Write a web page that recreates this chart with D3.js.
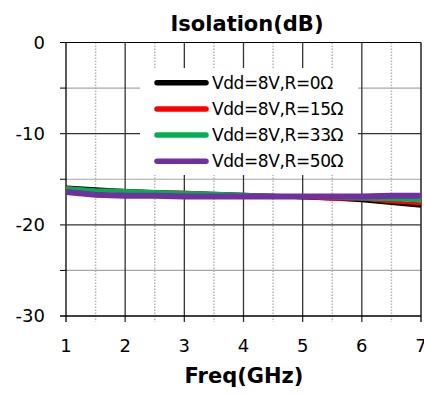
<!DOCTYPE html>
<html><head><meta charset="utf-8">
<script src="https://cdn.jsdelivr.net/npm/d3@7"></script>
<style>body{margin:0;background:#fff}svg{display:block}</style>
</head><body>
<script>
const freqs = [1,1.5,2,2.5,3,3.5,4,4.5,5,5.5,6,6.5,7];
const seriesNames = ["Vdd=8V,R=0Ω","Vdd=8V,R=15Ω","Vdd=8V,R=33Ω","Vdd=8V,R=50Ω"];
const r0  = [-15.9,-16.1,-16.3,-16.4,-16.5,-16.6,-16.7,-16.8,-17.0,-17.1,-17.3,-17.6,-17.9];
const r15 = [-15.9,-16.2,-16.2,-16.4,-16.4,-16.6,-16.7,-16.9,-17.0,-17.2,-17.2,-17.5,-17.7];
const r33 = [-16.0,-16.2,-16.3,-16.4,-16.5,-16.6,-16.7,-16.8,-16.9,-17.0,-17.1,-17.2,-17.3];
const r50 = [-16.4,-16.7,-16.8,-16.8,-16.9,-16.9,-16.9,-16.9,-16.9,-16.9,-16.9,-16.8,-16.8];
const colors = ["#000000","#ff0000","#00b050","#7030a0"];
const widths = [4,3,4,6];
const xTicks = [1,2,3,4,5,6,7];
const yTicks = [0,-10,-20,-30];

const W=424,H=394;
const svg=d3.select("body").append("svg").attr("width",W).attr("height",H);
const x=d3.scaleLinear().domain([1,7]).range([66,421]);
const y=d3.scaleLinear().domain([-30,0]).range([316,42.5]);
const font="DejaVu Sans";

const g=svg.append("g");
// minor vertical dotted
d3.range(1.5,7,1).forEach(v=>{
  g.append("line").attr("x1",x(v)).attr("x2",x(v)).attr("y1",y(0)).attr("y2",y(-30)+6)
   .attr("stroke","#b4b4b4").attr("stroke-width",1.5).attr("stroke-dasharray","1.5,1.5");
});
// minor horizontal
[-5,-15,-25].forEach(v=>{
  g.append("line").attr("x1",x(1)).attr("x2",x(7)).attr("y1",y(v)).attr("y2",y(v))
   .attr("stroke","#a6a6a6").attr("stroke-width",1.2);
  g.append("line").attr("x1",x(1)-6).attr("x2",x(1)).attr("y1",y(v)).attr("y2",y(v))
   .attr("stroke","#000").attr("stroke-width",1);
});
// major vertical
xTicks.forEach(v=>{
  g.append("line").attr("x1",x(v)).attr("x2",x(v)).attr("y1",y(0)).attr("y2",y(-30)+6)
   .attr("stroke",v===1||v===7?"#000":"#333").attr("stroke-width",1.3);
});
// major horizontal
yTicks.forEach(v=>{
  g.append("line").attr("x1",x(1)-6).attr("x2",x(7)).attr("y1",y(v)).attr("y2",y(v))
   .attr("stroke",(v===0||v===-30)?"#000":"#333").attr("stroke-width",v===-30?1.6:1.2);
});

// legend background
const lg=svg.append("g");
lg.append("rect").attr("x",140).attr("y",68).attr("width",218).attr("height",107).attr("fill","#fff");

// series
const data=[r0,r15,r33,r50];
const line=d3.line().x((d,i)=>x(freqs[i])).y(d=>y(d));
data.forEach((s,k)=>{
  svg.append("path").datum(s).attr("d",line).attr("fill","none")
    .attr("stroke",colors[k]).attr("stroke-width",widths[k]).attr("stroke-linejoin","round");
});

// legend entries
seriesNames.forEach((n,k)=>{
  const yy=82.7+k*26.2;
  lg.append("line").attr("x1",157).attr("x2",206).attr("y1",yy).attr("y2",yy)
    .attr("stroke",colors[k]).attr("stroke-width",5.5).attr("stroke-linecap","round");
  lg.append("text").attr("x",212).attr("y",yy).attr("dy","0.36em")
    .attr("font-family",font).attr("font-size",17).attr("letter-spacing","-0.4")
    .attr("fill","#000").text(n);
});

// axis labels
xTicks.forEach(v=>{
  svg.append("text").attr("x",x(v)).attr("y",352).attr("text-anchor","middle")
    .attr("font-family",font).attr("font-size",18).text(v);
});
yTicks.forEach(v=>{
  svg.append("text").attr("x",45).attr("y",y(v)).attr("dy","0.36em").attr("text-anchor","end")
    .attr("font-family",font).attr("font-size",18).text(v);
});
svg.append("text").attr("x",247).attr("y",31).attr("text-anchor","middle")
  .attr("font-family",font).attr("font-weight","bold").attr("font-size",21).text("Isolation(dB)");
svg.append("text").attr("x",244).attr("y",383).attr("text-anchor","middle")
  .attr("font-family",font).attr("font-weight","bold").attr("font-size",21).text("Freq(GHz)");
</script>
</body></html>
